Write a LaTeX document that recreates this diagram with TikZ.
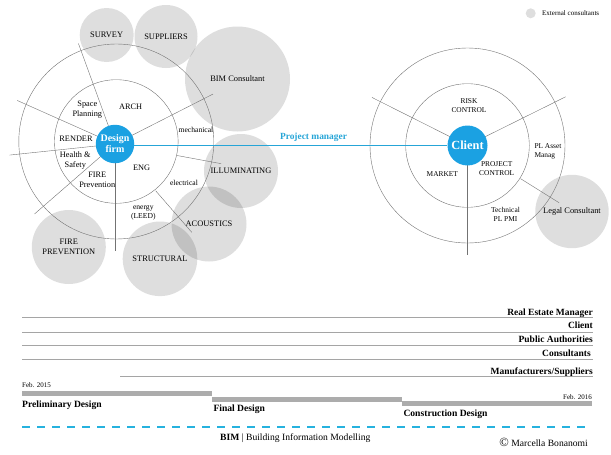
\documentclass[tikz,border=0pt]{standalone}
\usepackage{fontspec}
\setmainfont{Liberation Serif}
\usepackage{tikz}
\usetikzlibrary{positioning}

\definecolor{firmblue}{RGB}{27,161,226}
\definecolor{pmblue}{RGB}{38,165,215}
\definecolor{dashblue}{RGB}{38,178,222}
\definecolor{linegray}{RGB}{115,115,115}
\definecolor{rulegray}{RGB}{165,165,165}
\definecolor{bargray}{RGB}{172,172,172}

\begin{document}
\begin{tikzpicture}[x=1pt,y=-1pt,
    extc/.style={circle, fill=black, fill opacity=0.13, text opacity=1, inner sep=0pt, align=center, font=\fontsize{8.4}{9.5}\selectfont},
    ring/.style={draw=linegray, line width=0.4pt},
    spoke/.style={draw=linegray, line width=0.4pt},
    lbl/.style={align=center, inner sep=0pt, font=\fontsize{8.3}{10}\selectfont},
    small/.style={align=center, inner sep=0pt, font=\fontsize{7.6}{8.4}\selectfont},
    rlbl/.style={align=center, inner sep=0pt, font=\fontsize{7.4}{9}\selectfont},
    hub/.style={circle, fill=firmblue, text=white, inner sep=0pt, align=center, font=\bfseries\fontsize{10}{11}\selectfont},
    pmlabel/.style={inner sep=0pt, text=pmblue, font=\bfseries\fontsize{9.4}{11}\selectfont},
    role/.style={anchor=base east, inner sep=0pt, font=\bfseries\fontsize{9.5}{11}\selectfont},
    phase/.style={anchor=base west, inner sep=0pt, font=\bfseries\fontsize{9.6}{11}\selectfont},
    date/.style={inner sep=0pt, font=\fontsize{7}{8}\selectfont},
    rolerule/.style={draw=rulegray, line width=0.8pt},
    phasebar/.style={draw=bargray, line width=5pt},
  ]
  \useasboundingbox (0,0) rectangle (611,455);

  % external consultants
  \node[extc, minimum size=54pt] (survey) at (106.7,35) {SURVEY};
  \node[extc, minimum size=63pt] (suppliers) at (166,36.5) {SUPPLIERS};
  \node[extc, minimum size=105pt] (bimcons) at (237.5,79) {BIM Consultant};
  \node[extc, minimum size=74pt] (illum) at (241,171) {ILLUMINATING};
  \node[extc, minimum size=75pt] (acoustics) at (209,224) {ACOUSTICS};
  \node[extc, minimum size=74.6pt] (structural) at (160,258.8) {STRUCTURAL};
  \node[extc, minimum size=74pt] (fireprev) at (68.8,247) {FIRE\\PREVENTION};
  \node[extc, minimum size=73.4pt] (legal) at (572,211.5) {Legal Consultant};
  \node[extc, minimum size=10pt] (legdot) at (530.7,13.3) {};
  \node[date, anchor=west] (legend) at (542,13.5) {External consultants};

  % design firm rings
  \coordinate (fc) at (115,144);
  \coordinate (fring) at (116.3,141.5);
  \draw[ring] (fring) circle (97.5pt);
  \draw[ring] (fring) circle (61.8pt);
  \foreach \a/\r in {110/107,156/107,186/106,221/106.5,270/106.5,27/110}
    \draw[spoke] (fc) -- ++(\a:\r pt);
  \draw[spoke] (fc) ++(-10.5:63pt) -- ++(-10.5:45pt);
  \draw[spoke] (fc) ++(-49:62pt) -- ++(-49:55pt);
  \node[hub, minimum size=38.5pt] (firm) at (fc) {Design\\firm};

  % client rings
  \coordinate (cc) at (467.5,145.5);
  \draw[ring] (cc) circle (97.5pt);
  \draw[ring] (cc) circle (61.8pt);
  \foreach \a/\r in {153.3/107,26.4/109.6,270/109.5}
    \draw[spoke] (cc) -- ++(\a:\r pt);
  \draw[spoke] (cc) ++(-32:62.5pt) -- ++(-32:45.5pt);
  \node[hub, minimum size=40pt, font=\bfseries\fontsize{12.4}{13}\selectfont] (client) at (cc) {Client};

  \draw[draw=pmblue, line width=1.1pt] (firm.east |- client.west) -- (client.west);
  \node[pmlabel] (pm) at (313.5,137) {Project manager};

  % inner labels
  \node[lbl] (space) at (87.3,109.3) {Space\\Planning};
  \node[lbl] (arch) at (130.7,106.7) {ARCH};
  \node[lbl] (render) at (76,138.3) {RENDER};
  \node[lbl] (health) at (75.3,160.7) {Health \&\\Safety};
  \node[lbl] (fire) at (97.3,180) {FIRE\\Prevention};
  \node[lbl] (eng) at (141.7,167.7) {ENG};
  \node[small] (mech) at (196,130) {mechanical};
  \node[small] (elec) at (184,182.7) {electrical};
  \node[small] (energy) at (143.3,212.7) {energy\\(LEED)};

  \node[rlbl] (risk) at (469,105.5) {RISK\\CONTROL};
  \node[rlbl, anchor=west, align=left] (asset) at (534.3,151.3) {PL Asset\\Manag};
  \node[rlbl] (projctl) at (496.7,169) {PROJECT\\CONTROL};
  \node[rlbl] (market) at (442.3,174) {MARKET};
  \node[rlbl] (tech) at (505.5,214.5) {Technical\\PL PMI};

  % actors
  \node[role] (rem) at (593,315) {Real Estate Manager};
  \draw[rolerule] (22,317.3) -- (593,317.3);
  \node[role] (cli) at (593,328.3) {Client};
  \draw[rolerule] (22,332.3) -- (593,332.3);
  \node[role] (pa) at (593,342) {Public Authorities};
  \draw[rolerule] (22,345) -- (593,345);
  \node[role] (cons) at (591,356) {Consultants};
  \draw[rolerule] (22,359.3) -- (593,359.3);
  \node[role] (manuf) at (593,374) {Manufacturers/Suppliers};
  \draw[rolerule] (120,376.3) -- (593,376.3);

  % phases
  \node[date, anchor=base west] (start) at (22,387.5) {Feb. 2015};
  \node[date, anchor=base east] (finish) at (592,399.5) {Feb. 2016};
  \draw[phasebar] (22,393.5) -- (212,393.5);
  \draw[phasebar] (212,399.3) -- (402,399.3);
  \draw[phasebar] (402,403.5) -- (592,403.5);
  \node[phase] (prelim) at (22,407.3) {Preliminary Design};
  \node[phase] (final) at (213.3,411.5) {Final Design};
  \node[phase] (constr) at (403.3,416.5) {Construction Design};

  \draw[draw=dashblue, line width=2.6pt, dash pattern=on 8pt off 7pt] (22,427) -- (590,427);
  \node[anchor=base west, inner sep=0pt, font=\fontsize{9.6}{11}\selectfont] (bimlabel) at (220,440) {\textbf{BIM} | Building Information Modelling};
  \node[anchor=base east, inner sep=0pt, font=\fontsize{9.6}{11}\selectfont] (credit) at (588,446) {{\fontsize{12.5}{12}\selectfont\textcopyright}\ Marcella Bonanomi};
\end{tikzpicture}
\end{document}
